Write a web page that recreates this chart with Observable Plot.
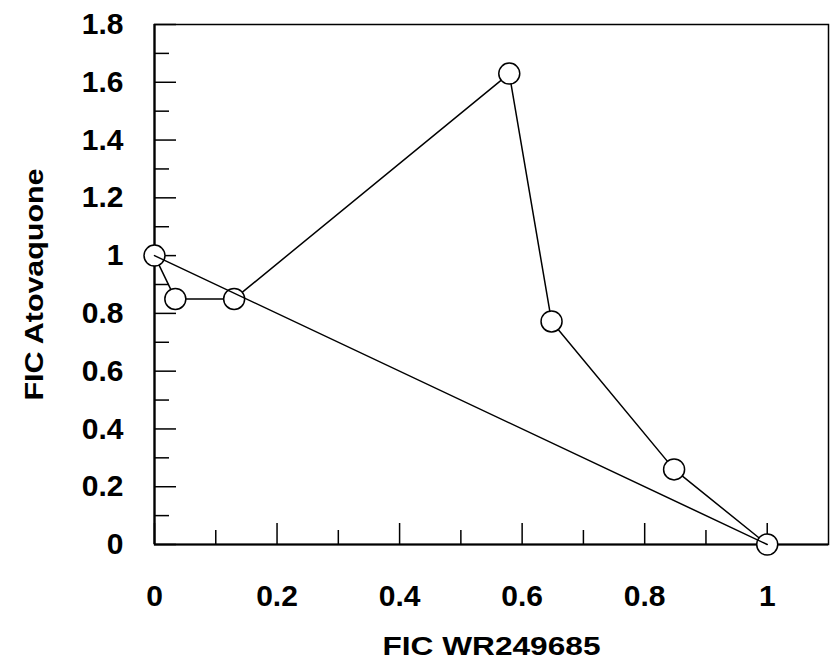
<!DOCTYPE html>
<html>
<head>
<meta charset="utf-8">
<script src="https://cdn.jsdelivr.net/npm/d3@7"></script>
<script src="https://cdn.jsdelivr.net/npm/@observablehq/plot@0.6"></script>
<style>
  html, body { margin: 0; padding: 0; background: #fff; }
  svg { display: block; }
</style>
</head>
<body>
<div id="chart"></div>
<script>
// Isobologram data (FIC WR249685 vs FIC Atovaquone)
const ficWR = [0, 0.034, 0.13, 0.579, 0.648, 0.848, 1];
const ficAto = [1, 0.85, 0.85, 1.63, 0.772, 0.26, 0];
// Additive (line of indifference) endpoints
const addX = [0, 1];
const addY = [1, 0];
// Ticks
const xMajor = [0, 0.2, 0.4, 0.6, 0.8, 1];
const xMinor = [0.1, 0.3, 0.5, 0.7, 0.9];
const xLabels = ["0", "0.2", "0.4", "0.6", "0.8", "1"];
const yMajor = [0, 0.2, 0.4, 0.6, 0.8, 1, 1.2, 1.4, 1.6, 1.8];
const yMinor = [0.1, 0.3, 0.5, 0.7, 0.9, 1.1, 1.3, 1.5, 1.7];
const yLabels = ["0", "0.2", "0.4", "0.6", "0.8", "1", "1.2", "1.4", "1.6", "1.8"];
const xTitle = "FIC WR249685";
const yTitle = "FIC Atovaquone";

const pts = ficWR.map((x, i) => ({x, y: ficAto[i]}));
const add = addX.map((x, i) => ({x, y: addY[i]}));

const W = 834, H = 666;
const mL = 154, mR = 6, mT = 24, mB = 122;
const fw = W - mL - mR, fh = H - mT - mB;

const plot = Plot.plot({
  width: W,
  height: H,
  marginLeft: mL,
  marginRight: mR,
  marginTop: mT,
  marginBottom: mB,
  style: {fontFamily: "'Liberation Sans', Arial, sans-serif", fontWeight: "bold", color: "#000", background: "#fff"},
  x: {domain: [0, 1.1], axis: null},
  y: {domain: [0, 1.8], axis: null},
  marks: [
    Plot.frame({stroke: "#000", strokeWidth: 1.5}),
    // inward ticks
    Plot.tickX(xMajor, {x: d => d, insetTop: fh - 21, stroke: "#000", strokeWidth: 1.5}),
    Plot.tickX(xMinor, {x: d => d, insetTop: fh - 14, stroke: "#000", strokeWidth: 1.5}),
    Plot.tickY(yMajor, {y: d => d, insetRight: fw - 22, stroke: "#000", strokeWidth: 1.5}),
    Plot.tickY(yMinor, {y: d => d, insetRight: fw - 15, stroke: "#000", strokeWidth: 1.5}),
    Plot.ruleY([0], {stroke: "#000", strokeWidth: 2.2}),
    Plot.ruleX([0], {stroke: "#000", strokeWidth: 2.2}),
    // tick labels
    Plot.axisX({ticks: xMajor, tickSize: 0, tickPadding: 40, fontSize: 30, fontWeight: "bold", label: null,
      tickFormat: d => xLabels[xMajor.indexOf(d)]}),
    Plot.axisY({ticks: yMajor, tickSize: 0, tickPadding: 31, fontSize: 30, fontWeight: "bold", label: null,
      tickFormat: d => yLabels[yMajor.indexOf(d)]}),
    // data
    Plot.line(pts, {x: "x", y: "y", stroke: "#000", strokeWidth: 1.5}),
    Plot.dot(pts, {x: "x", y: "y", r: 10.5, fill: "#fff", stroke: "#000", strokeWidth: 1.5}),
    Plot.line(add, {x: "x", y: "y", stroke: "#000", strokeWidth: 1.5}),
    // axis titles
    Plot.text([xTitle], {frameAnchor: "bottom", text: d => d, dy: 102, lineAnchor: "middle",
      fontSize: 26, fontWeight: "bold", fill: "#000", className: "xtitle"}),
    Plot.text([yTitle], {frameAnchor: "left", text: d => d, dx: -120, rotate: -90, lineAnchor: "middle",
      fontSize: 26, fontWeight: "bold", fill: "#000", className: "ytitle"})
  ]
});

document.getElementById("chart").appendChild(plot);
d3.select(plot).selectAll(".xtitle text")
  .attr("textLength", 218).attr("lengthAdjust", "spacingAndGlyphs")
  .attr("text-anchor", "start").attr("x", -109);
d3.select(plot).selectAll(".ytitle text")
  .attr("textLength", 232).attr("lengthAdjust", "spacingAndGlyphs")
  .attr("text-anchor", "start").attr("x", -116);
</script>
</body>
</html>
